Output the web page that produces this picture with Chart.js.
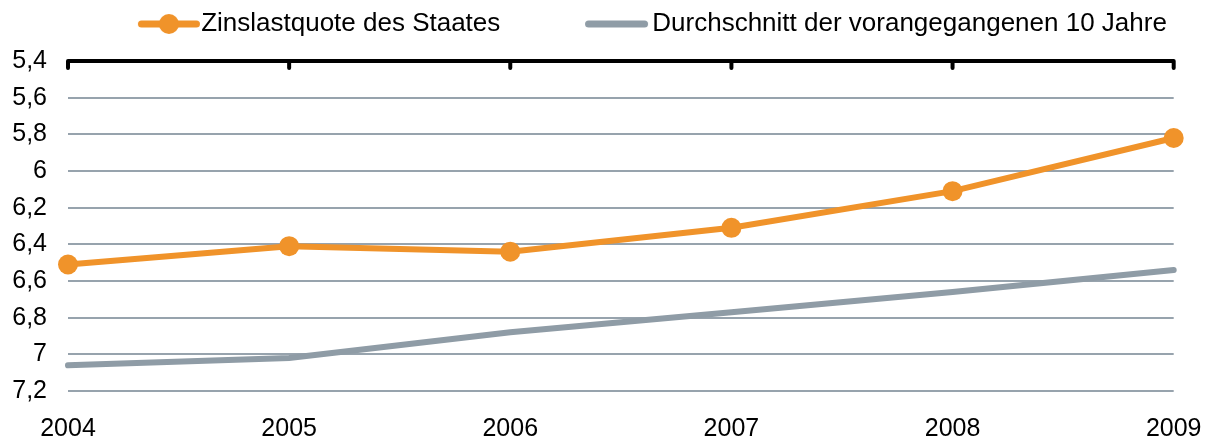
<!DOCTYPE html>
<html>
<head>
<meta charset="utf-8">
<script src="https://cdn.jsdelivr.net/npm/chart.js@4/dist/chart.umd.min.js"></script>
<style>
  html, body { margin: 0; padding: 0; background: #fff; }
  #wrap { width: 1205px; height: 442px; }
</style>
</head>
<body>
<div id="wrap"><canvas id="chart" width="1205" height="442"></canvas></div>
<script>
// ---- data ----
const years = ['2004', '2005', '2006', '2007', '2008', '2009'];
const zinslastquote = [6.51, 6.41, 6.44, 6.31, 6.11, 5.82];
const durchschnitt10 = [7.06, 7.02, 6.88, 6.77, 6.66, 6.54];
const seriesNames = ['Zinslastquote des Staates', 'Durchschnitt der vorangegangenen 10 Jahre'];

const ORANGE = '#F0932A';
const GREY = '#8F9CA6';
const GRID = '#97A3AD';
const FONT = 'Liberation Sans, Arial, sans-serif';

// legend symbol: line (+ marker) on a small canvas, drawn off-centre so it
// sits right next to its text
function legendSymbol(color, withDot, u0, u1) {
    const c = document.createElement('canvas');
    c.width = 200; c.height = 24;
    const g = c.getContext('2d');
    g.strokeStyle = color;
    g.lineWidth = 7;
    g.lineCap = 'round';
    g.beginPath();
    g.moveTo(u0 + 3.5, 12); g.lineTo(u1 - 3.5, 12);
    g.stroke();
    if (withDot) {
        g.fillStyle = color;
        g.beginPath();
        g.arc((u0 + u1) / 2, 12, 10, 0, Math.PI * 2);
        g.fill();
    }
    return c;
}

// black top border with small down ticks
const topAxisLine = {
    id: 'topAxisLine',
    beforeDatasetsDraw(chart) {
        const { ctx, chartArea, scales } = chart;
        const y = scales.y.getPixelForValue(5.4);
        ctx.save();
        ctx.strokeStyle = '#000';
        ctx.lineWidth = 4;
        ctx.lineCap = 'round';
        ctx.beginPath();
        ctx.moveTo(chartArea.left, y);
        ctx.lineTo(chartArea.right, y);
        years.forEach((_, i) => {
            const x = scales.x.getPixelForValue(i);
            ctx.moveTo(x, y);
            ctx.lineTo(x, y + 7);
        });
        ctx.stroke();
        ctx.restore();
    }
};

// push the plot down below the legend
const legendSpace = {
    id: 'legendSpace',
    beforeInit(chart) {
        const fit = chart.legend.fit;
        chart.legend.fit = function () {
            fit.bind(chart.legend)();
            this.height = 58.5;
        };
    }
};

new Chart(document.getElementById('chart'), {
    type: 'line',
    data: {
        labels: years,
        datasets: [{
            label: seriesNames[0],
            data: zinslastquote,
            borderColor: ORANGE,
            backgroundColor: ORANGE,
            borderWidth: 6,
            borderCapStyle: 'round',
            pointRadius: 10,
            pointBorderWidth: 0,
            pointBackgroundColor: ORANGE,
            pointStyle: 'circle',
            clip: false,
            tension: 0
        }, {
            label: seriesNames[1],
            data: durchschnitt10,
            borderColor: GREY,
            backgroundColor: GREY,
            borderWidth: 6,
            borderCapStyle: 'round',
            pointRadius: 0,
            clip: false,
            tension: 0
        }]
    },
    options: {
        responsive: false,
        animation: false,
        layout: { padding: { top: 2.5, left: 0, right: -19.5, bottom: 0 } },
        plugins: {
            tooltip: { enabled: false },
            legend: {
                position: 'top',
                labels: {
                    usePointStyle: true,
                    pointStyleWidth: 130.5,
                    padding: 8.5,
                    color: '#000',
                    font: { family: FONT, size: 26 },
                    generateLabels(chart) {
                        return chart.data.datasets.map((ds, i) => ({
                            text: ds.label,
                            pointStyle: i === 0
                                ? legendSymbol(ds.borderColor, true, 115, 177)
                                : legendSymbol(ds.borderColor, false, 111, 174),
                            fillStyle: ds.borderColor,
                            strokeStyle: ds.borderColor,
                            lineWidth: 0,
                            hidden: false,
                            datasetIndex: i,
                            fontColor: '#000'
                        }));
                    }
                }
            }
        },
        scales: {
            x: {
                afterFit(scale) { scale.height = 51; },
                grid: {
                    display: true,
                    drawOnChartArea: false,
                    drawTicks: true,
                    tickLength: 19.5,
                    color: 'rgba(0,0,0,0)'
                },
                border: { display: false },
                ticks: {
                    padding: 3.5,
                    color: '#000',
                    maxRotation: 0,
                    font: { family: FONT, size: 25 }
                }
            },
            y: {
                afterFit(scale) { scale.width = 68; },
                reverse: true,
                min: 5.4,
                max: 7.2,
                border: { display: false },
                grid: {
                    drawTicks: false,
                    lineWidth: 2,
                    color: ctx => (ctx.tick && Math.abs(ctx.tick.value - 5.4) < 1e-6) ? 'rgba(0,0,0,0)' : GRID
                },
                ticks: {
                    stepSize: 0.2,
                    padding: 21,
                    color: '#000',
                    font: { family: FONT, size: 25 },
                    callback: v => Number(v.toFixed(1)).toString().replace('.', ',')
                }
            }
        }
    },
    plugins: [topAxisLine, legendSpace]
});
</script>
</body>
</html>
